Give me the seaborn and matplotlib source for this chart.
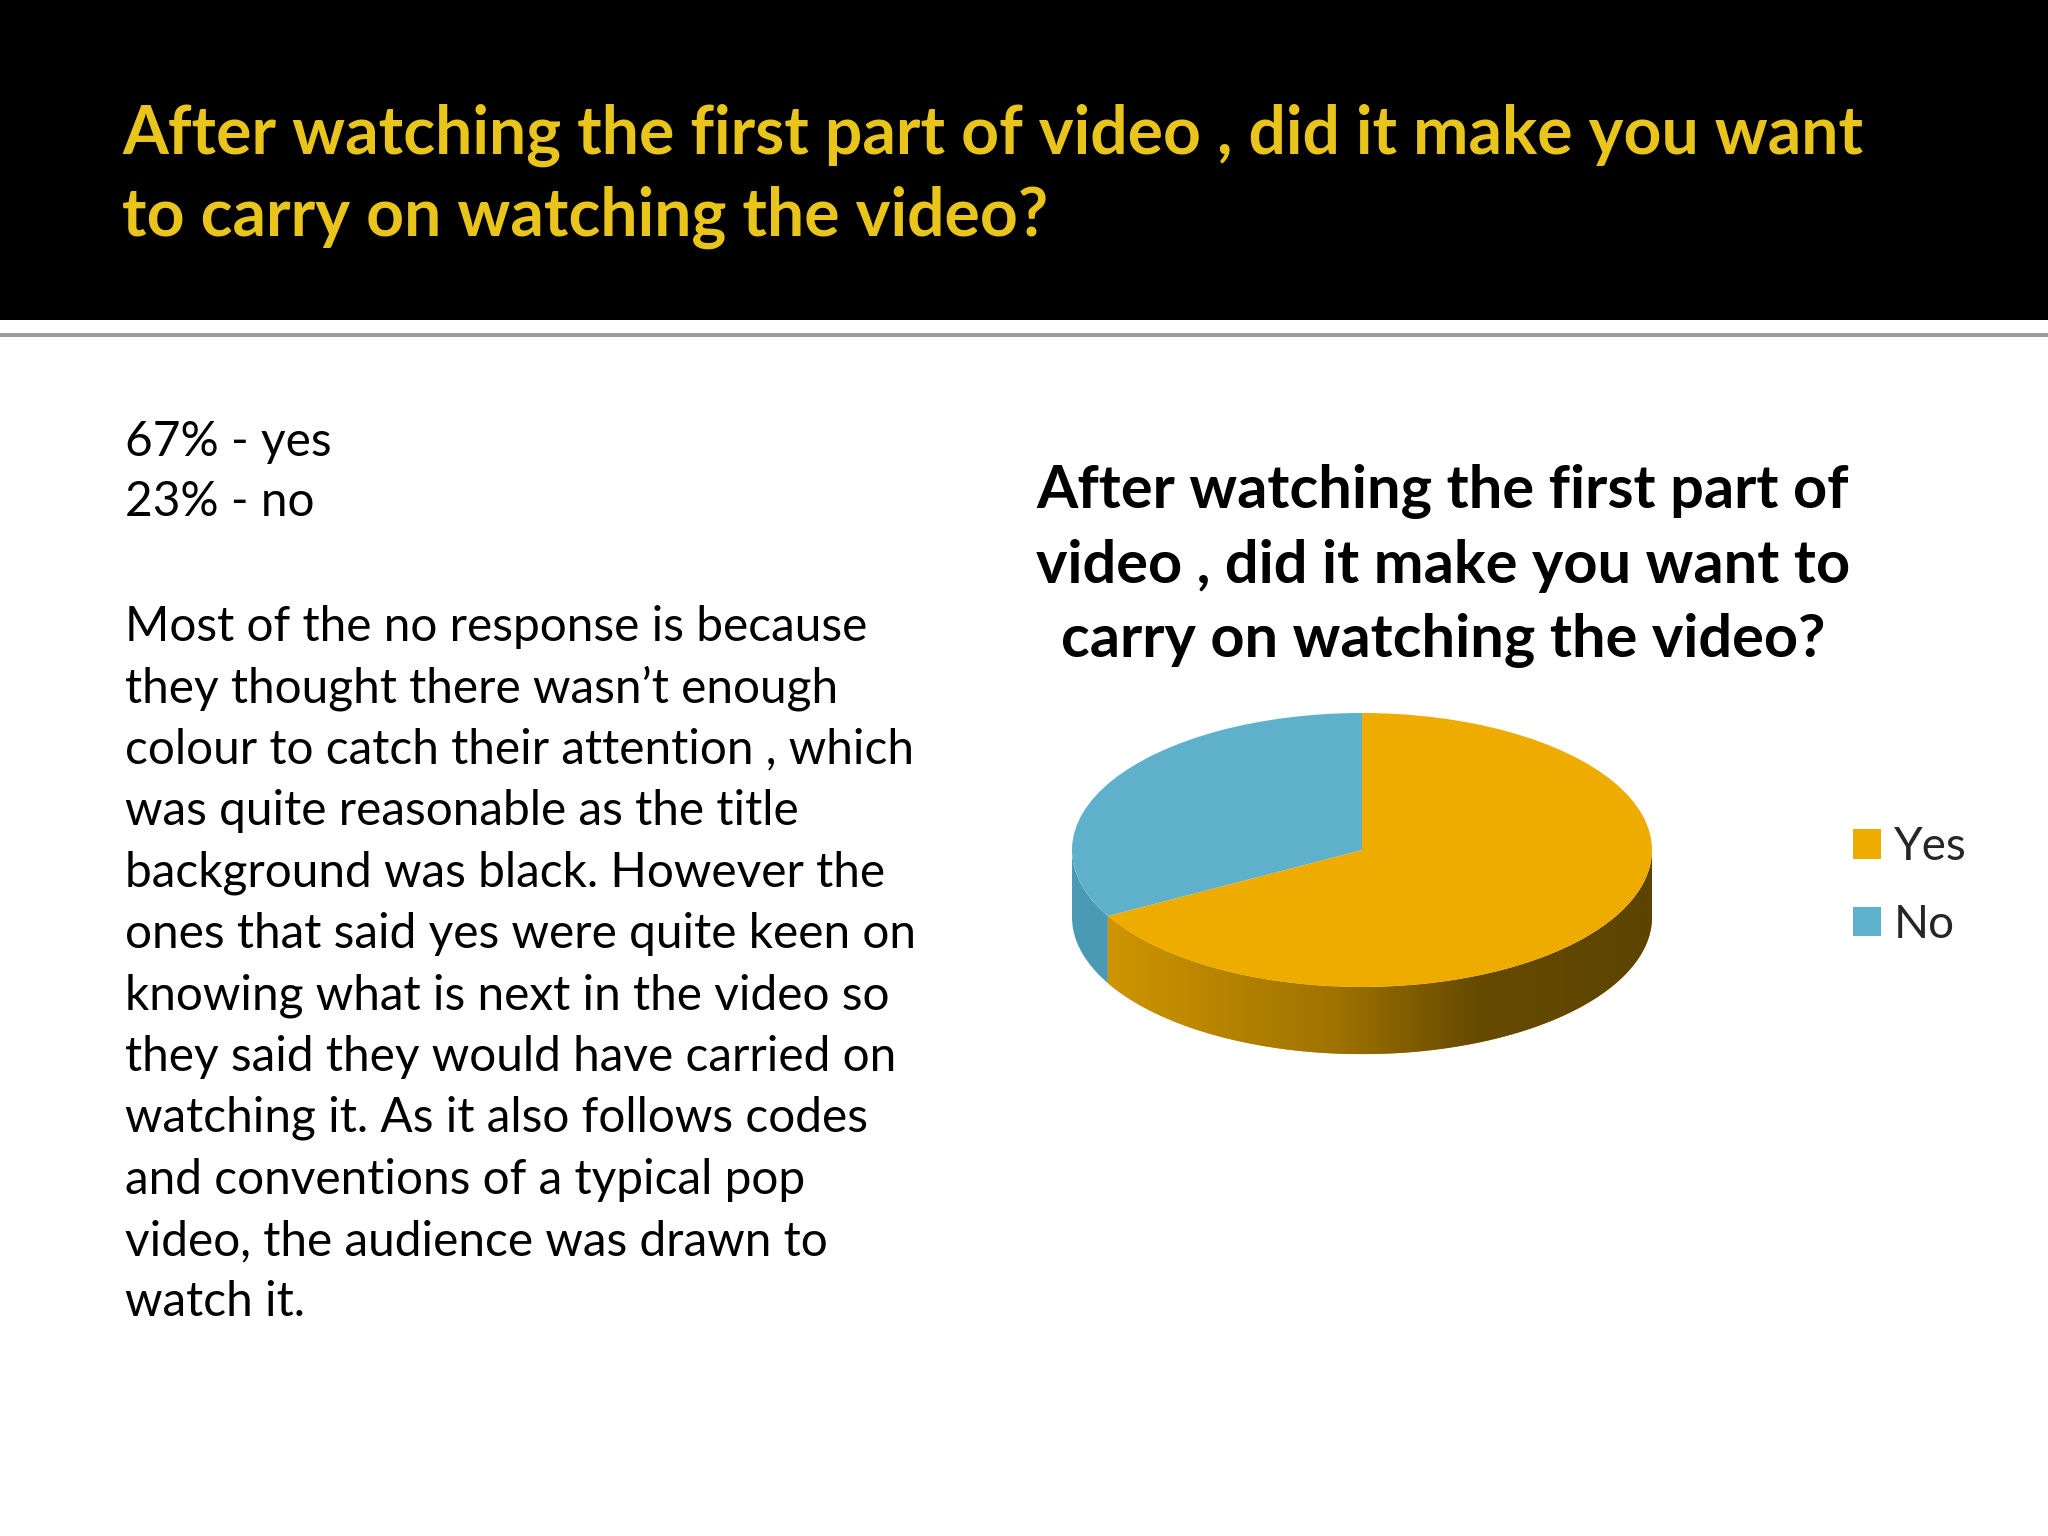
import numpy as np
import matplotlib
matplotlib.use("Agg")
import matplotlib.pyplot as plt
import seaborn as sns
from matplotlib.colors import LinearSegmentedColormap
from matplotlib.patches import Rectangle, Polygon

sns.set_theme(style="white")
plt.rcParams["font.family"] = ["Lato", "DejaVu Sans"]

# data
answers = ["Yes", "No"]
shares = [67, 33]
top_colors = ["#EEAC00", "#5FB1CB"]
side_colors = ["#C88F00", "#4A9AB5"]

header_lines = ["After watching the first part of video , did it make you want",
                "to carry on watching the video?"]
chart_title = "After watching the first part of\nvideo , did it make you want to\ncarry on watching the video?"
summary = ["67% - yes", "23% - no"]
paragraph = [
    "Most of the no response is because",
    "they thought there wasn\u2019t enough",
    "colour to catch their attention , which",
    "was quite reasonable as the title",
    "background was black. However the",
    "ones that said yes were quite keen on",
    "knowing what is next in the video so",
    "they said they would have carried on",
    "watching it. As it also follows codes",
    "and conventions of a typical pop",
    "video, the audience was drawn to",
    "watch it.",
]

W, H = 2048, 1536
fig = plt.figure(figsize=(W / 100, H / 100), dpi=100)
fig.patch.set_facecolor("white")

# black title band and grey rule under it
fig.patches.append(Rectangle((0, 1 - 320 / H), 1, 320 / H, transform=fig.transFigure,
                             facecolor="black", edgecolor="none", zorder=0))
fig.patches.append(Rectangle((0, 1 - 337 / H), 1, 4 / H, transform=fig.transFigure,
                             facecolor="#9c9c9c", edgecolor="none", zorder=0))

for i, line in enumerate(header_lines):
    fig.text(122 / W, 1 - (135 + i * 82) / H, line, color="#E9C51C", fontsize=47.5,
             fontweight="bold", va="center", ha="left")

# left-hand notes
for i, line in enumerate(summary):
    fig.text(125 / W, 1 - (442 + i * 60) / H, line, fontsize=34.4, color="black",
             va="center", ha="left")
for i, line in enumerate(paragraph):
    fig.text(125 / W, 1 - (627 + i * 61.4) / H, line, fontsize=34.4, color="black",
             va="center", ha="left")

# chart title
fig.text(1443 / W, 1 - 566 / H, chart_title, fontsize=42.8, fontweight="bold",
         color="black", ha="center", va="center", linespacing=1.46)

# pie: circle of radius 1 squashed into an ellipse by the axes box
ax = fig.add_axes([1014 / W, 466.8 / H, 696 / W, 383.6 / H])
wedges, _ = ax.pie(shares, colors=top_colors, startangle=90, counterclock=False,
                   radius=1, wedgeprops=dict(linewidth=0))
for w in wedges:
    w.set_zorder(5)

depth = 0.49
side_cmap = LinearSegmentedColormap.from_list(
    "side", [(0.0, "#D69B00"), (0.45, "#A07300"), (0.7, "#664A00"), (1.0, "#5C4400")])

for w, col in zip(wedges, side_colors):
    t = np.linspace(w.theta1, w.theta2, 600)
    t = t[np.sin(np.radians(t)) <= 0]
    if len(t) < 2:
        continue
    r = np.radians(t)
    top = np.column_stack([np.cos(r), np.sin(r)])
    bot = np.column_stack([np.cos(r), np.sin(r) - depth])[::-1]
    band = Polygon(np.vstack([top, bot]), closed=True, facecolor=col,
                   edgecolor="none", zorder=2)
    ax.add_patch(band)
    if col == side_colors[0]:
        grad = np.linspace(0, 1, 512).reshape(1, -1)
        im = ax.imshow(grad, cmap=side_cmap, extent=[-1, 1, -1 - depth, 0.1],
                       aspect="auto", zorder=3, interpolation="bilinear")
        im.set_clip_path(band)

ax.set_xlim(-1.2, 1.2)
ax.set_ylim(-1.6, 1.2)
ax.set_aspect("auto")
ax.axis("off")

fig.legend(wedges, answers, loc="center left", bbox_to_anchor=(1853 / W, 1 - 886 / H),
           frameon=False, fontsize=33, handlelength=0.6, handleheight=0.6,
           handletextpad=0.3, labelspacing=0.78, borderpad=0, borderaxespad=0)

fig.savefig("out.png", dpi=100, facecolor="white")
